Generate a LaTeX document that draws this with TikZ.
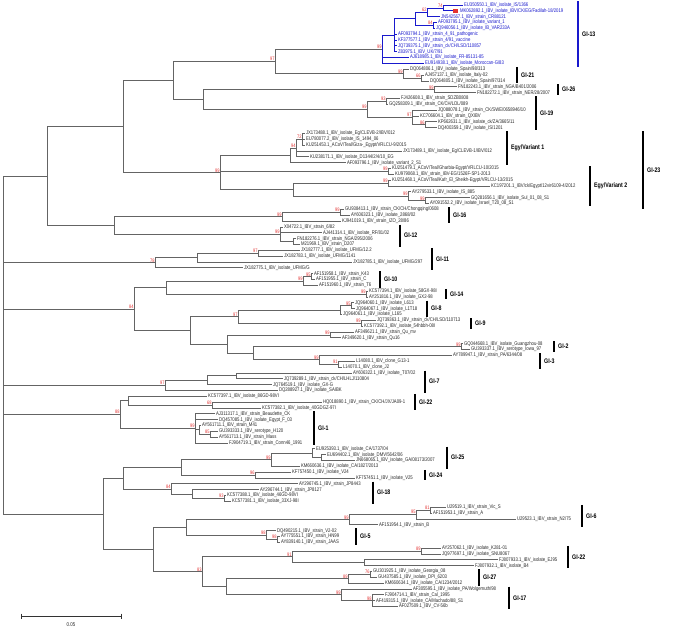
\documentclass[tikz,border=0pt]{standalone}
\usepackage{fontspec}
\setmainfont{Liberation Sans}
\newfontfamily\lfont[FakeStretch=0.8]{Liberation Sans}
\usetikzlibrary{calc}
\definecolor{bluec}{RGB}{25,25,205}
\definecolor{redc}{RGB}{228,50,50}
\definecolor{brc}{RGB}{100,100,100}
\definecolor{txc}{RGB}{40,40,40}
\newcommand\lf[4]{\node[leaf] (#1) at (#2,#3) {#4};}
\newcommand\blf[4]{\node[bleaf] (#1) at (#2,#3) {#4};}
\newcommand\cn[3]{\coordinate (#1) at (#2,#3);}
\newcommand\tb[2]{\foreach \ch in {#2}{\draw[br] (#1) |- (\ch);}}
\newcommand\tbb[2]{\foreach \ch in {#2}{\draw[bb] (#1) |- (\ch);}}
\newcommand\bsv[2]{\node[bs] (bs#1) at (#1) {#2};}
\newcommand\grp[6][black]{\draw[gbar,draw=#1] (#3,#4) coordinate (#2t) -- (#3,#5) coordinate (#2b); \node[glab] (#2) at ($(#2t)!0.5!(#2b)+(4,0)$) {#6};}
\begin{document}
\begin{tikzpicture}[x=1pt,y=-1pt,
  br/.style={draw=brc, line width=0.8pt},
  bb/.style={draw=bluec, line width=0.8pt},
  leaf/.style={anchor=west, inner xsep=0.8pt, inner ysep=0pt, text height=3.9pt, text depth=1.1pt, font=\lfont\fontsize{5.3}{6}\selectfont, text=txc},
  bleaf/.style={leaf, text=bluec},
  bs/.style={anchor=south east, inner sep=0.3pt, font=\lfont\fontsize{5}{5.5}\selectfont, text=redc},
  gbar/.style={line width=1.2pt},
  glab/.style={anchor=west, inner sep=0pt, font=\lfont\bfseries\fontsize{6.6}{7}\selectfont, text=black}]
\useasboundingbox (0,0) rectangle (677,629);
\fill[white] (0,0) rectangle (677,629);
\begin{scope}[y=-5.84pt, yshift=-5pt]
% ---------- GI-13 ----------
\blf{L0}{463}{0}{EU350550.1\_IBV\_isolate\_IS/1366}
\node[fill=redc, inner sep=0pt, minimum size=4.6pt] (sq) at (455.5,1) {};
\blf{L1}{459}{1}{MK062892.1\_IBV\_isolate\_IBV/CK/EG/Fadilah-18/2019}
\blf{L2}{440}{2}{JN542567.1\_IBV\_strain\_CR88121}
\blf{L3}{437}{3}{AF093795.1\_IBV\_isolate\_variant\_1}
\blf{L4}{435}{4}{JQ946056.1\_IBV\_isolate\_IB\_VAR233A}
\blf{L5}{397}{5}{AF093794.1\_IBV\_strain\_4\_91\_pathogenic}
\blf{L6}{397}{6}{KF377577.1\_IBV\_strain\_4/91\_vaccine}
\blf{L7}{397}{7}{JQ739375.1\_IBV\_strain\_ck/CH/LSD/110857}
\blf{L8}{397}{8}{Z83975.1\_IBV\_UK/7/91}
\blf{L9}{409}{9}{AJ618985.1\_IBV\_isolate\_FR-85131-85}
\blf{L10}{424}{10}{EU914938.1\_IBV\_isolate\_Moroccan-G/83}
\cn{a1}{443}{0.5} \cn{a2}{427}{1.25} \cn{a3}{433}{3.5} \cn{a4}{415}{2.375} \cn{a5}{394}{5.19} \cn{a6}{382}{7.59}
\tbb{a1}{L0.west,sq.west} \tbb{a2}{a1,L2.west} \tbb{a3}{L3.west,L4.west} \tbb{a4}{a2,a3}
\tbb{a5}{a4,L5.west,L6.west,L7.west,L8.west} \tbb{a6}{a5,L9.west,L10.west}
% ---------- GI-21 ----------
\lf{L11}{409}{11}{DQ064806.1\_IBV\_isolate\_Spain/98/313}
\lf{L12}{424}{12}{AJ457137.1\_IBV\_isolate\_Italy-02}
\lf{L13}{429}{13}{DQ064805.1\_IBV\_isolate\_Spain/97/314}
\cn{g21i}{421}{12.5} \cn{g21}{403}{11.75}
\tb{g21i}{L12.west,L13.west} \tb{g21}{L11.west,g21i}
\cn{n97}{275}{9.67} \tb{n97}{a6,g21}
% ---------- GI-26 ----------
\lf{L14}{457}{14}{FN182243.1\_IBV\_strain\_NGA/B401/2006}
\lf{L15}{476}{15}{FN182272.1\_IBV\_strain\_NER/28/2007}
\cn{g26}{434}{14.5} \tb{g26}{L14.west,L15.west}
% ---------- GI-19 ----------
\lf{L16}{400}{16}{FJ426608.1\_IBV\_strain\_SDZB0808}
\lf{L17}{388}{17}{GQ258309.1\_IBV\_strain\_CK/CH/LDL/089}
\lf{L18}{437}{18}{JQ088078.1\_IBV\_strain\_CK/SWE/0658946/10}
\lf{L19}{419}{19}{KC706604.1\_IBV\_strain\_QXIBV}
\lf{L20}{437}{20}{KP662631.1\_IBV\_isolate\_ck/ZA/3665/11}
\lf{L21}{437}{21}{DQ400359.1\_IBV\_isolate\_IS/1201}
\cn{p1}{386}{16.5} \cn{p3}{425}{20.5} \cn{p2}{412}{19.25} \cn{r19}{367}{17.875}
\tb{p1}{L16.west,L17.west} \tb{p3}{L20.west,L21.west} \tb{p2}{L18.west,L19.west,p3} \tb{r19}{p1,p2}
\cn{n2619}{203}{16.19} \tb{n2619}{g26,r19}
\cn{M}{173}{12.93} \tb{M}{n97,n2619}
% ---------- Egy/Variant 1 ----------
\lf{L22}{305}{22}{JX173488.1\_IBV\_isolate\_Eg/CLEVB-2/IBV/012}
\lf{L23}{305}{23}{EU780077.2\_IBV\_isolate\_IS\_1494\_06}
\lf{L24}{305}{24}{KU251453.1\_ACoV/Teal/Giza-\_Egypt/VRLCU-9/2015}
\lf{L25}{402}{25}{JX173489.1\_IBV\_isolate\_Eg/CLEVB-1/IBV/012}
\lf{L26}{309}{26}{KU238171.1\_IBV\_isolate\_D1344/2/4/10\_EG}
\lf{L27}{346}{27}{AF093796.1\_IBV\_isolate\_variant\_2\_S1}
\cn{e1}{302}{23} \cn{e2}{296}{24.5} \cn{ev1}{290}{25.75}
\tb{e1}{L22.west,L23.west,L24.west} \tb{e2}{e1,L25.west,L26.west} \tb{ev1}{e2,L27.west}
% ---------- Egy/Variant 2 ----------
\lf{L28}{391}{28}{KU251479.1\_ACoV/Teal/Gharbia-Egypt/VRLCU-10/2015}
\lf{L29}{394}{29}{KU979068.1\_IBV\_strain\_IBV-EG/1526F-SP1-2013}
\lf{L30}{391}{30}{KU251468.1\_ACoV/Teal/Kafr\_El\_Sheikh-Egypt/VRLCU-13/2015}
\lf{L31}{490}{31}{KC197201.1\_IBV/ck/Egypt/12vir6109-4/2012}
\lf{L32}{411}{32}{AY279533.1\_IBV\_isolate\_IS\_885}
\lf{L33}{470}{33}{GQ281656.1\_IBV\_isolate\_Sul\_01\_08\_S1}
\lf{L34}{429}{34}{AY091552.2\_IBV\_isolate\_Israel\_T20\_08\_S1}
\cn{v1}{388}{28.5} \cn{v3}{388}{30.5} \cn{v5}{425}{33.5} \cn{v4}{408}{32.75} \cn{v2}{293}{31.625}
\tb{v1}{L28.west,L29.west} \tb{v3}{L30.west,L31.west} \tb{v5}{L33.west,L34.west} \tb{v4}{L32.west,v5} \tb{v2}{v3,v4}
\cn{g23}{220}{28.69} \tb{g23}{ev1,v1,v2}
\cn{NA}{123}{20.81} \tb{NA}{M,g23}
% ---------- GI-16 / GI-12 ----------
\lf{L35}{344}{35}{GU938413.1\_IBV\_strain\_CK/CH/Chongqing/0608}
\lf{L36}{350}{36}{AY606323.1\_IBV\_isolate\_2868/02}
\lf{L37}{341}{37}{KJ941019.1\_IBV\_strain\_IZO\_28/86}
\cn{g16a}{340}{35.5} \cn{g16}{282}{36.25}
\tb{g16a}{L35.west,L36.west} \tb{g16}{g16a,L37.west}
\lf{L38}{283}{38}{X04722.1\_IBV\_strain\_6/82}
\lf{L39}{322}{39}{AJ441314.1\_IBV\_isolate\_RF/81/02}
\lf{L40}{296}{40}{FN182276.1\_IBV\_strain\_NGA/295/2006}
\lf{L41}{300}{41}{M21969.1\_IBV\_strain\_D207}
\cn{g12c}{293}{40.5} \cn{g12}{280}{39.25}
\tb{g12c}{L40.west,L41.west} \tb{g12}{L38.west,L39.west,g12c}
\cn{G1612}{114}{37.75} \tb{G1612}{g16,g12}
\cn{A}{47}{29.28} \tb{A}{NA,G1612}
% ---------- GI-11 ----------
\lf{L42}{300}{42}{JX182777.1\_IBV\_isolate\_UFMG/12.2}
\lf{L43}{283}{43}{JX182783.1\_IBV\_isolate\_UFMG/1141}
\lf{L44}{352}{44}{JX182785.1\_IBV\_isolate\_UFMG/297}
\lf{L45}{243}{45}{JX182775.1\_IBV\_isolate\_UFMG/G}
\cn{g11b}{258}{42.5} \cn{g11a}{197}{43.25} \cn{g11}{155}{44.125}
\tb{g11b}{L42.west,L43.west} \tb{g11a}{g11b,L44.west} \tb{g11}{g11a,L45.west}
% ---------- GI-10 / GI-14 ----------
\lf{L46}{313}{46}{AF151958.1\_IBV\_strain\_K43}
\lf{L47}{315}{47}{AF151955.1\_IBV\_strain\_C}
\lf{L48}{318}{48}{AF151960.1\_IBV\_strain\_T6}
\cn{g10a}{311}{46.5} \cn{g10}{303}{47.25}
\tb{g10a}{L46.west,L47.west} \tb{g10}{g10a,L48.west}
\lf{L49}{368}{49}{KC577394.1\_IBV\_isolate\_58GX-98I}
\lf{L50}{368}{50}{AY251816.1\_IBV\_isolate\_GX2-98}
\cn{g14}{366}{49.5} \tb{g14}{L49.west,L50.west}
\cn{g1014}{166}{48.375} \tb{g1014}{g10,g14}
% ---------- GI-8 / GI-9 / GI-2 / GI-3 ----------
\lf{L51}{354}{51}{JQ964060.1\_IBV\_isolate\_L613}
\lf{L52}{355}{52}{JQ964067.1\_IBV\_isolate\_L1T18}
\lf{L53}{342}{53}{JQ964061.1\_IBV\_isolate\_L165}
\cn{g8a}{351}{51.5} \cn{g8}{340}{52.25}
\tb{g8a}{L51.west,L52.west} \tb{g8}{g8a,L53.west}
\lf{L54}{376}{54}{JQ739363.1\_IBV\_strain\_ck/CH/LSD/110713}
\lf{L55}{363}{55}{KC577392.1\_IBV\_isolate\_54hbbh-08I}
\cn{g9}{361}{54.5} \tb{g9}{L54.west,L55.west}
\cn{g89}{238}{53.375} \tb{g89}{g8,g9}
\lf{L56}{354}{56}{AF349621.1\_IBV\_strain\_Qu\_mv}
\lf{L57}{341}{57}{AF349620.1\_IBV\_strain\_Qu16}
\cn{qu}{330}{56.5} \tb{qu}{L56.west,L57.west}
\lf{L58}{463}{58}{GQ044668.1\_IBV\_isolate\_Guangzhou-08}
\lf{L59}{470}{59}{GU393337.1\_IBV\_serotype\_Iowa\_97}
\cn{g2}{461}{58.5} \tb{g2}{L58.west,L59.west}
\lf{L60}{452}{60}{AY789947.1\_IBV\_strain\_PA/6344/08}
\lf{L61}{355}{61}{L14080.1\_IBV\_clone\_G13-1}
\lf{L62}{342}{62}{L14070.1\_IBV\_clone\_J2}
\cn{g3}{338}{61.5} \tb{g3}{L61.west,L62.west}
\cn{X5}{319}{60.75} \tb{X5}{L60.west,g3}
\cn{X4}{253}{59.625} \tb{X4}{g2,X5}
\cn{X3}{227}{58.06} \tb{X3}{qu,X4}
\cn{X2}{190}{55.72} \tb{X2}{g89,X3}
\cn{X1}{134}{52.05} \tb{X1}{g1014,X2}
% ---------- GI-7 ----------
\lf{L63}{352}{63}{AY606322.1\_IBV\_isolate\_T07/02}
\lf{L64}{283}{64}{JQ739289.1\_IBV\_strain\_ck/CH/LHLJ/110804}
\lf{L65}{272}{65}{JQ764519.1\_IBV\_isolate\_GX-G}
\lf{L66}{278}{66}{DQ288927.1\_IBV\_isolate\_SAIBK}
\cn{g7a}{236}{63.5} \cn{g7x}{207}{64.25} \cn{g7}{165}{65.125}
\tb{g7a}{L63.west,L64.west} \tb{g7x}{g7a,L65.west} \tb{g7}{g7x,L66.west}
% ---------- GI-22 (a) ----------
\lf{L67}{207}{67}{KC577397.1\_IBV\_isolate\_86GD-98VI}
\lf{L68}{322}{68}{HQ018890.1\_IBV\_strain\_CK/CH/JX/JA09-1}
\lf{L69}{261}{69}{KC577382.1\_IBV\_isolate\_40GDGZ-97I}
\cn{g22i}{212}{68.5} \cn{g22a}{128}{67.75}
\tb{g22i}{L68.west,L69.west} \tb{g22a}{L67.west,g22i}
% ---------- GI-1 ----------
\lf{L70}{215}{70}{AJ311317.1\_IBV\_strain\_Beaudette\_CK}
\lf{L71}{218}{71}{DQ457085.1\_IBV\_isolate\_Egypt\_F\_03}
\lf{L72}{201}{72}{AY561711.1\_IBV\_strain\_M41}
\lf{L73}{218}{73}{GU393333.1\_IBV\_serotype\_H120}
\lf{L74}{218}{74}{AY561713.1\_IBV\_strain\_Mass}
\lf{L75}{228}{75}{FJ904719.1\_IBV\_strain\_Conn46\_1991}
\cn{g1c}{210}{73.5} \cn{g1b}{199}{72.75} \cn{g1}{195}{72.5}
\tb{g1c}{L73.west,L74.west} \tb{g1b}{L72.west,g1c} \tb{g1}{L70.west,L71.west,g1b,L75.west}
\cn{Z2}{120}{70.125} \tb{Z2}{g22a,g1}
% ---------- GI-25 / GI-24 / GI-18 ----------
\lf{L76}{315}{76}{EU925393.1\_IBV\_isolate\_CA/1737/04}
\lf{L77}{326}{77}{EU694402.1\_IBV\_isolate\_DMV/5642/06}
\lf{L78}{355}{78}{JN668065.1\_IBV\_isolate\_GA/08173/2007}
\lf{L79}{300}{79}{KM660636.1\_IBV\_isolate\_CA/1827/2013}
\cn{g25a}{321}{77.5} \cn{g25b}{312}{76.75} \cn{g25}{271}{77.875}
\tb{g25a}{L77.west,L78.west} \tb{g25b}{L76.west,g25a} \tb{g25}{g25b,L79.west}
\lf{L80}{291}{80}{KF757450.1\_IBV\_isolate\_V24}
\lf{L81}{355}{81}{KF757451.1\_IBV\_isolate\_V25}
\cn{g24}{255}{80.5} \tb{g24}{L80.west,L81.west}
\cn{Z3}{181}{79.19} \tb{Z3}{g25,g24}
\lf{L82}{298}{82}{AY296745.1\_IBV\_strain\_JP8443}
\lf{L83}{259}{83}{AY296744.1\_IBV\_strain\_JP8127}
\lf{L84}{226}{84}{KC577388.1\_IBV\_isolate\_46GD-98VI}
\lf{L85}{231}{85}{KC577381.1\_IBV\_isolate\_33XJ-98I}
\cn{g18c}{224}{84.5} \cn{g18b}{192}{83.75} \cn{g18}{171}{82.875}
\tb{g18c}{L84.west,L85.west} \tb{g18b}{L83.west,g18c} \tb{g18}{L82.west,g18b}
\cn{Z4}{123}{81.03} \tb{Z4}{Z3,g18}
% ---------- GI-6 / GI-5 ----------
\lf{L86}{446}{86}{U29519.1\_IBV\_strain\_Vic\_S}
\lf{L87}{432}{87}{AF151953.1\_IBV\_strain\_A}
\lf{L88}{516}{88}{U29523.1\_IBV\_strain\_N2/75}
\lf{L89}{378}{89}{AF151954.1\_IBV\_strain\_B}
\cn{g6a}{430}{86.5} \cn{g6b}{416}{87.25} \cn{g6}{349}{88.125}
\tb{g6a}{L86.west,L87.west} \tb{g6b}{g6a,L88.west} \tb{g6}{g6b,L89.west}
\lf{L90}{276}{90}{DQ490215.1\_IBV\_strain\_V2-02}
\lf{L91}{280}{91}{AY775551.1\_IBV\_strain\_HN99}
\lf{L92}{280}{92}{AY839140.1\_IBV\_strain\_JAAS}
\cn{g5b}{277}{91.5} \cn{g5}{266}{90.75}
\tb{g5b}{L91.west,L92.west} \tb{g5}{L90.west,g5b}
\cn{Z6}{186}{89.44} \tb{Z6}{g6,g5}
% ---------- GI-22 (b) / GI-27 / GI-17 ----------
\lf{L93}{441}{93}{AY257062.1\_IBV\_isolate\_K281-01}
\lf{L94}{441}{94}{JQ977697.1\_IBV\_isolate\_SNU8067}
\lf{L95}{498}{95}{FJ807933.1\_IBV\_isolate\_EJ95}
\lf{L96}{474}{96}{FJ807932.1\_IBV\_isolate\_B4}
\cn{g22ba}{421}{93.5} \cn{g22bb}{364}{95.5} \cn{g22b}{292}{94.5}
\tb{g22ba}{L93.west,L94.west} \tb{g22bb}{L95.west,L96.west} \tb{g22b}{g22ba,g22bb}
\lf{L97}{372}{97}{GU301925.1\_IBV\_isolate\_Georgia\_08}
\lf{L98}{377}{98}{GU437585.1\_IBV\_isolate\_DPI\_6203}
\lf{L99}{384}{99}{KM660634.1\_IBV\_isolate\_CA/1234/2012}
\cn{g27a}{370}{97.5} \cn{g27}{348}{98.25}
\tb{g27a}{L97.west,L98.west} \tb{g27}{g27a,L99.west}
\lf{L100}{412}{100}{AF305595.1\_IBV\_isolate\_PA/Wolgemuth/98}
\lf{L101}{384}{101}{FJ904714.1\_IBV\_strain\_Cal\_1995}
\lf{L102}{375}{102}{AF419315.1\_IBV\_isolate\_CA/Machado/88\_S1}
\lf{L103}{398}{103}{AF027509.1\_IBV\_CV-56b}
\cn{g17b}{372}{102} \cn{g17}{341}{101}
\tb{g17b}{L101.west,L102.west,L103.west} \tb{g17}{L100.west,g17b}
\cn{g2717}{226}{99.625} \tb{g2717}{g27,g17}
\cn{Z8}{202}{97.06} \tb{Z8}{g22b,g2717}
\cn{Z7}{153}{93.25} \tb{Z7}{Z6,Z8}
\cn{Z5}{103}{87.14} \tb{Z5}{Z4,Z7}
% ---------- root ----------
\cn{R}{3}{50} \tb{R}{A,g11,X1,g7,Z2,Z5}
% ---------- bootstrap values ----------
\bsv{a1}{74} \bsv{a2}{62} \bsv{a3}{84} \bsv{a6}{99} \bsv{n97}{97} \bsv{g21}{99} \bsv{g21i}{66}
\bsv{g26}{99} \bsv{p1}{93} \bsv{r19}{99} \bsv{p2}{97} \bsv{p3}{86} \bsv{e1}{72} \bsv{e2}{94}
\bsv{g23}{99} \bsv{v1}{99} \bsv{v3}{99} \bsv{v4}{99} \bsv{v5}{99} \bsv{g16a}{99} \bsv{g16}{99}
\bsv{g12}{99} \bsv{g11b}{97} \bsv{g11}{78} \bsv{g10a}{95} \bsv{g10}{99} \bsv{g14}{99} \bsv{g8a}{95}
\bsv{g89}{97} \bsv{X1}{84} \bsv{g9}{99} \bsv{qu}{99} \bsv{g2}{99} \bsv{X5}{99} \bsv{g3}{91}
\bsv{g7}{97} \bsv{Z2}{88} \bsv{g22i}{68} \bsv{g1}{99} \bsv{g1c}{85} \bsv{g25}{99} \bsv{g24}{96}
\bsv{g18}{84} \bsv{g18c}{93} \bsv{g6a}{81} \bsv{g6b}{95} \bsv{g6}{99} \bsv{g5}{98} \bsv{g5b}{98}
\bsv{g22ba}{89} \bsv{g22b}{91} \bsv{Z8}{83} \bsv{g27a}{76} \bsv{g27}{89} \bsv{g17}{99} \bsv{g17b}{98}
% ---------- group bars ----------
\grp[bluec]{gl13}{578}{-0.6}{10.6}{GI-13}
\grp{gl21}{517}{10.6}{13.4}{GI-21}
\grp{gl26}{558}{13.6}{15.4}{GI-26}
\grp{gl19}{536}{15.6}{21.4}{GI-19}
\grp{glva}{507}{21.6}{27.4}{Egy/Variant 1}
\grp{glvb}{590}{27.6}{34.4}{Egy/Variant 2}
\grp{gl23}{643}{21.6}{35}{GI-23}
\grp{gl16}{449}{34.6}{37.4}{GI-16}
\grp{gl12}{400}{37.6}{41.4}{GI-12}
\grp{gl11}{432}{41.6}{45.4}{GI-11}
\grp{gl10}{380}{45.6}{48.4}{GI-10}
\grp{gl14}{446}{48.6}{50.4}{GI-14}
\grp{gl8}{427}{50.6}{53.4}{GI-8}
\grp{gl9}{471}{53.6}{55.4}{GI-9}
\grp{gl2}{554}{57.6}{59.4}{GI-2}
\grp{gl3}{540}{59.6}{62.4}{GI-3}
\grp{gl7}{425}{62.6}{66.4}{GI-7}
\grp{glxa}{415}{66.6}{69.4}{GI-22}
\grp{gl1}{314}{69.6}{75.4}{GI-1}
\grp{gl25}{447}{75.6}{79.4}{GI-25}
\grp{gl24}{425}{79.6}{81.4}{GI-24}
\grp{gl18}{373}{81.6}{85.4}{GI-18}
\grp{gl6}{582}{85.6}{89.4}{GI-6}
\grp{gl5}{356}{89.6}{92.4}{GI-5}
\grp{glxb}{568}{92.6}{96.4}{GI-22}
\grp{gl27}{479}{96.6}{99.4}{GI-27}
\grp{gl17}{509}{99.6}{103.4}{GI-17}
\end{scope}
% ---------- scale bar ----------
\draw[black!80, line width=0.7pt] (21,616) coordinate (sb1) -- (121,616) coordinate (sb2);
\draw[black!80, line width=0.7pt] (21,613.5) -- (21,618.5) (121,613.5) -- (121,618.5);
\node[font=\lfont\fontsize{5.5}{6}\selectfont, text=txc] (sbl) at (71,625) {0.05};
\end{tikzpicture}
\end{document}
